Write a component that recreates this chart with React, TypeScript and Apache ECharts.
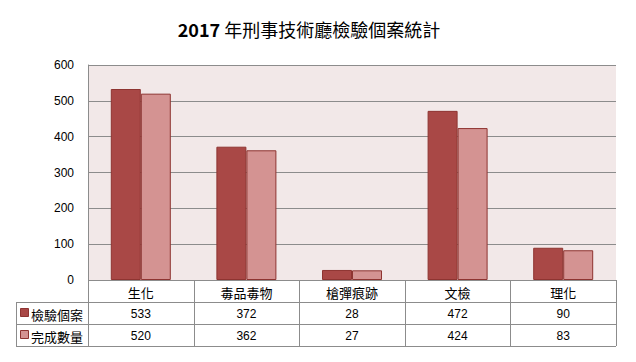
import React, { useEffect, useRef } from "react";
import * as echarts from "echarts";

const TITLE_YEAR = "2017";
const TITLE_REST = " 年刑事技術廳檢驗個案統計";
const categories = ["生化", "毒品毒物", "槍彈痕跡", "文檢", "理化"];
const seriesNames = ["檢驗個案", "完成數量"];
const cases = [533, 372, 28, 472, 90];
const completed = [520, 362, 27, 424, 83];
const yTicks = { min: 0, max: 600, interval: 100 };

const COLORS = ["#A94846", "#D49392"];
const BORDER = "#8E3431";
const LINE = "#8C8C8C";

export default function App() {
  const ref = useRef<HTMLDivElement>(null);
  useEffect(() => {
    if (!ref.current) return;
    const chart = echarts.init(ref.current, null, { renderer: "svg" });
    const W = 636, H = 362;
    const gl = 88, gr = 616, gt = 65, gb = 280;
    const tl = 16;
    const rowH = 22;
    const cw = (gr - gl) / categories.length;
    const rows = [cases, completed];
    const graphic: any[] = [];
    const ln = (x1: number, y1: number, x2: number, y2: number) => ({
      type: "line",
      shape: { x1, y1, x2, y2 },
      style: { stroke: LINE, lineWidth: 1 },
      silent: true,
    });
    graphic.push(ln(gl, gb + 0.5, gr, gb + 0.5));
    for (let r = 1; r <= rows.length + 1; r++) {
      const y = gb + r * rowH + 0.5;
      graphic.push(ln(tl, y, gr, y));
    }
    graphic.push(ln(tl + 0.5, gb + rowH, tl + 0.5, gb + rowH * 3));
    for (let i = 0; i <= categories.length; i++) {
      const x = Math.round(gl + i * cw) + 0.5;
      graphic.push(ln(x, gb, x, gb + rowH * 3));
    }
    rows.forEach((vals, r) => {
      const cy = gb + rowH * (r + 1) + rowH / 2 + 1;
      graphic.push({
        type: "rect",
        shape: { x: 20.5, y: cy - 5.5, width: 8, height: 8 },
        style: { fill: COLORS[r], stroke: BORDER, lineWidth: 1 },
      });
      graphic.push({
        type: "text",
        x: 31,
        y: cy,
        style: {
          text: seriesNames[r],
          font: '13px "Noto Sans CJK TC"',
          fill: "#000",
          verticalAlign: "middle",
          align: "left",
        },
      });
      vals.forEach((v, i) => {
        graphic.push({
          type: "text",
          x: gl + (i + 0.5) * cw,
          y: cy,
          style: {
            text: String(v),
            font: '12px "Liberation Sans", sans-serif',
            fill: "#000",
            align: "center",
            verticalAlign: "middle",
          },
        });
      });
    });
    graphic.push({
      type: "text",
      x: 309,
      y: 29,
      style: {
        text: "{a|" + TITLE_YEAR + "}{b|" + TITLE_REST + "}",
        rich: {
          a: { font: 'bold 18px "Noto Sans CJK TC"', fill: "#000" },
          b: { font: '18px "Noto Sans CJK TC"', fill: "#000" },
        },
        fill: "#000",
        align: "center",
        verticalAlign: "middle",
      },
    });

    chart.setOption({
      animation: false,
      grid: {
        left: gl,
        right: W - gr,
        top: gt,
        bottom: H - gb,
        show: true,
        backgroundColor: "#F2E8E8",
        borderWidth: 0,
        containLabel: false,
      },
      xAxis: {
        type: "category",
        data: categories,
        axisLine: { show: false },
        axisTick: { show: false },
        axisLabel: {
          margin: 12,
          verticalAlign: "middle",
          color: "#000",
          fontSize: 13,
          fontFamily: "Noto Sans CJK TC",
        },
      },
      yAxis: {
        type: "value",
        min: yTicks.min,
        max: yTicks.max,
        interval: yTicks.interval,
        axisLine: { show: true, lineStyle: { color: LINE } },
        axisTick: { show: false },
        axisLabel: {
          margin: 14,
          color: "#000",
          fontSize: 12,
          fontFamily: "Liberation Sans",
        },
        splitLine: { show: true, lineStyle: { color: LINE, width: 1 } },
      },
      series: seriesNames.map((name, k) => ({
        name,
        type: "bar",
        data: rows[k],
        barWidth: 30,
        barGap: "0%",
        itemStyle: { color: COLORS[k], borderColor: BORDER, borderWidth: 1 },
      })),
      graphic,
    });
    return () => chart.dispose();
  }, []);
  return (
    <div
      ref={ref}
      style={{ position: "fixed", left: 0, top: 0, width: 636, height: 362, background: "#fff" }}
    />
  );
}
